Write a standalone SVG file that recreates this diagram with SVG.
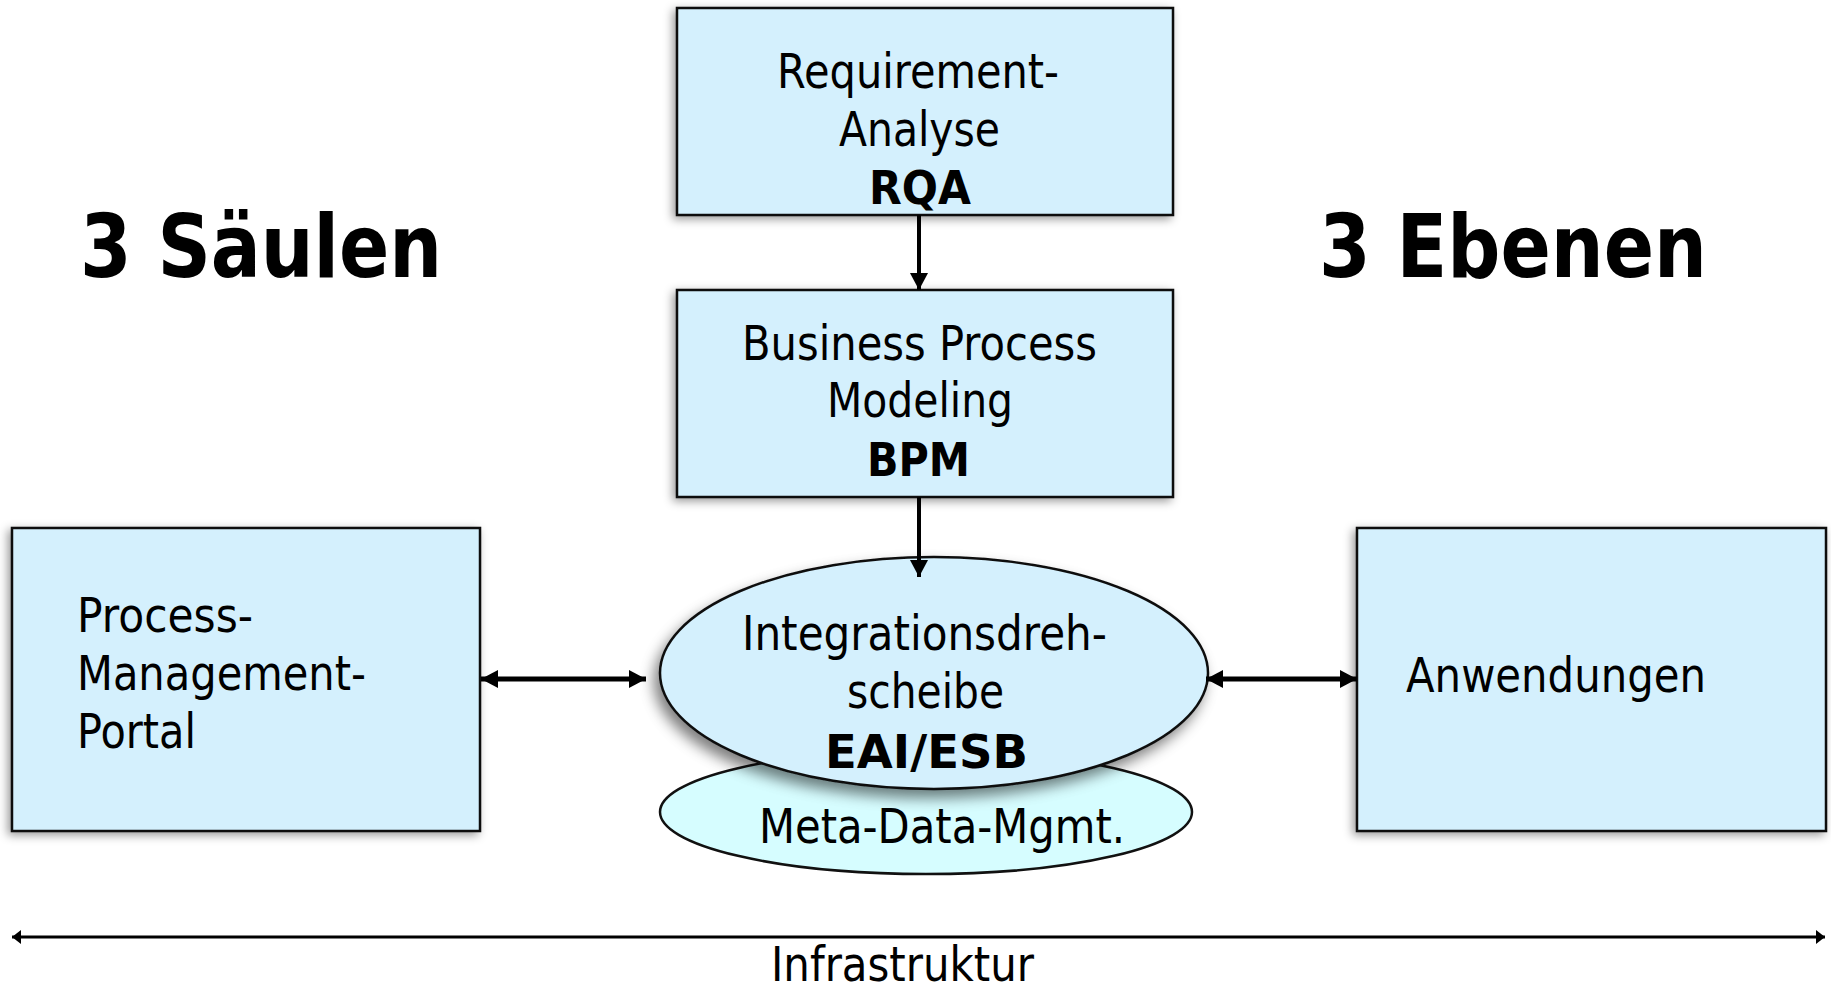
<svg xmlns="http://www.w3.org/2000/svg" width="1831" height="994" viewBox="0 0 1831 994">
<style>
.box{fill:#D4F0FD;stroke:#111;stroke-width:2.5}
.meta{fill:#D6FDFF;stroke:#111;stroke-width:2.5}
.t{font-family:"DejaVu Sans","Liberation Sans",sans-serif;font-size:48px;fill:#000}
.b{font-family:"DejaVu Sans","Liberation Sans",sans-serif;font-size:46px;font-weight:bold;fill:#000}
.big{font-family:"DejaVu Sans","Liberation Sans",sans-serif;font-size:88px;font-weight:bold;fill:#000}
.c{stroke:#000;fill:none}
</style>
<defs>
<filter id="sh" x="-10%" y="-10%" width="120%" height="130%">
<feGaussianBlur in="SourceAlpha" stdDeviation="5"/>
<feOffset dx="-3" dy="3" result="o"/>
<feFlood flood-color="#000" flood-opacity="0.4"/>
<feComposite in2="o" operator="in"/>
<feMerge><feMergeNode/><feMergeNode in="SourceGraphic"/></feMerge>
</filter>
<filter id="she" x="-10%" y="-10%" width="120%" height="135%">
<feGaussianBlur in="SourceAlpha" stdDeviation="7"/>
<feOffset dx="-5" dy="8" result="o"/>
<feFlood flood-color="#000" flood-opacity="0.5"/>
<feComposite in2="o" operator="in"/>
<feMerge><feMergeNode/><feMergeNode in="SourceGraphic"/></feMerge>
</filter>
<marker id="ah" markerUnits="userSpaceOnUse" markerWidth="18" markerHeight="18" refX="17" refY="9" orient="auto-start-reverse" viewBox="0 0 18 18">
<path d="M0,0 L17,9 L0,18 Z" fill="#000"/>
</marker>
<marker id="as" markerUnits="userSpaceOnUse" markerWidth="10" markerHeight="14" refX="9" refY="7" orient="auto-start-reverse" viewBox="0 0 10 14">
<path d="M0,0 L9,7 L0,14 Z" fill="#000"/>
</marker>
</defs>
<rect width="1831" height="994" fill="#fff"/>

<g id="title-saeulen"><text class="big" x="80" y="277" textLength="362" lengthAdjust="spacingAndGlyphs">3 Säulen</text></g>
<g id="title-ebenen"><text class="big" x="1319" y="277" textLength="388" lengthAdjust="spacingAndGlyphs">3 Ebenen</text></g>

<g id="node-rqa">
<rect class="box" x="677" y="8" width="496" height="207" filter="url(#sh)"/>
<text class="t" x="777" y="88" textLength="282" lengthAdjust="spacingAndGlyphs">Requirement-</text>
<text class="t" x="839" y="146" textLength="161" lengthAdjust="spacingAndGlyphs">Analyse</text>
<text class="b" x="869" y="204" textLength="102" lengthAdjust="spacingAndGlyphs">RQA</text>
</g>

<g id="node-bpm">
<rect class="box" x="677" y="290" width="496" height="207" filter="url(#sh)"/>
<text class="t" x="742" y="360" textLength="355" lengthAdjust="spacingAndGlyphs">Business Process</text>
<text class="t" x="827" y="417" textLength="186" lengthAdjust="spacingAndGlyphs">Modeling</text>
<text class="b" x="867" y="476" textLength="103" lengthAdjust="spacingAndGlyphs">BPM</text>
</g>

<g id="node-portal">
<rect class="box" x="12" y="528" width="468" height="303" filter="url(#sh)"/>
<text class="t" x="77" y="632" textLength="176" lengthAdjust="spacingAndGlyphs">Process-</text>
<text class="t" x="77" y="690" textLength="289" lengthAdjust="spacingAndGlyphs">Management-</text>
<text class="t" x="77" y="748" textLength="119" lengthAdjust="spacingAndGlyphs">Portal</text>
</g>

<g id="node-anwendungen">
<rect class="box" x="1357" y="528" width="469" height="303" filter="url(#sh)"/>
<text class="t" x="1406" y="692" textLength="300" lengthAdjust="spacingAndGlyphs">Anwendungen</text>
</g>

<g id="node-meta">
<ellipse class="meta" cx="926" cy="812" rx="266" ry="62"/>
<text class="t" x="759" y="843" textLength="366" lengthAdjust="spacingAndGlyphs">Meta-Data-Mgmt.</text>
</g>

<g id="node-eai">
<ellipse class="box" cx="934" cy="673" rx="274" ry="116" filter="url(#she)"/>
<text class="t" x="742" y="650" textLength="365" lengthAdjust="spacingAndGlyphs">Integrationsdreh-</text>
<text class="t" x="847" y="708" textLength="157" lengthAdjust="spacingAndGlyphs">scheibe</text>
<text class="b" x="825" y="768" textLength="203" lengthAdjust="spacingAndGlyphs">EAI/ESB</text>
</g>

<g id="connectors">
<line class="c" x1="919" y1="215" x2="919" y2="290" stroke-width="4" marker-end="url(#ah)"/>
<line class="c" x1="919" y1="497" x2="919" y2="577" stroke-width="4" marker-end="url(#ah)"/>
<line class="c" x1="481" y1="679" x2="646" y2="679" stroke-width="5" marker-start="url(#ah)" marker-end="url(#ah)"/>
<line class="c" x1="1206" y1="679" x2="1357" y2="679" stroke-width="5" marker-start="url(#ah)" marker-end="url(#ah)"/>
<line class="c" x1="12" y1="937" x2="1825" y2="937" stroke-width="3" marker-start="url(#as)" marker-end="url(#as)"/>
</g>

<g id="label-infrastruktur"><text class="t" x="771" y="981" font-size="46" textLength="263" lengthAdjust="spacingAndGlyphs">Infrastruktur</text></g>
</svg>
